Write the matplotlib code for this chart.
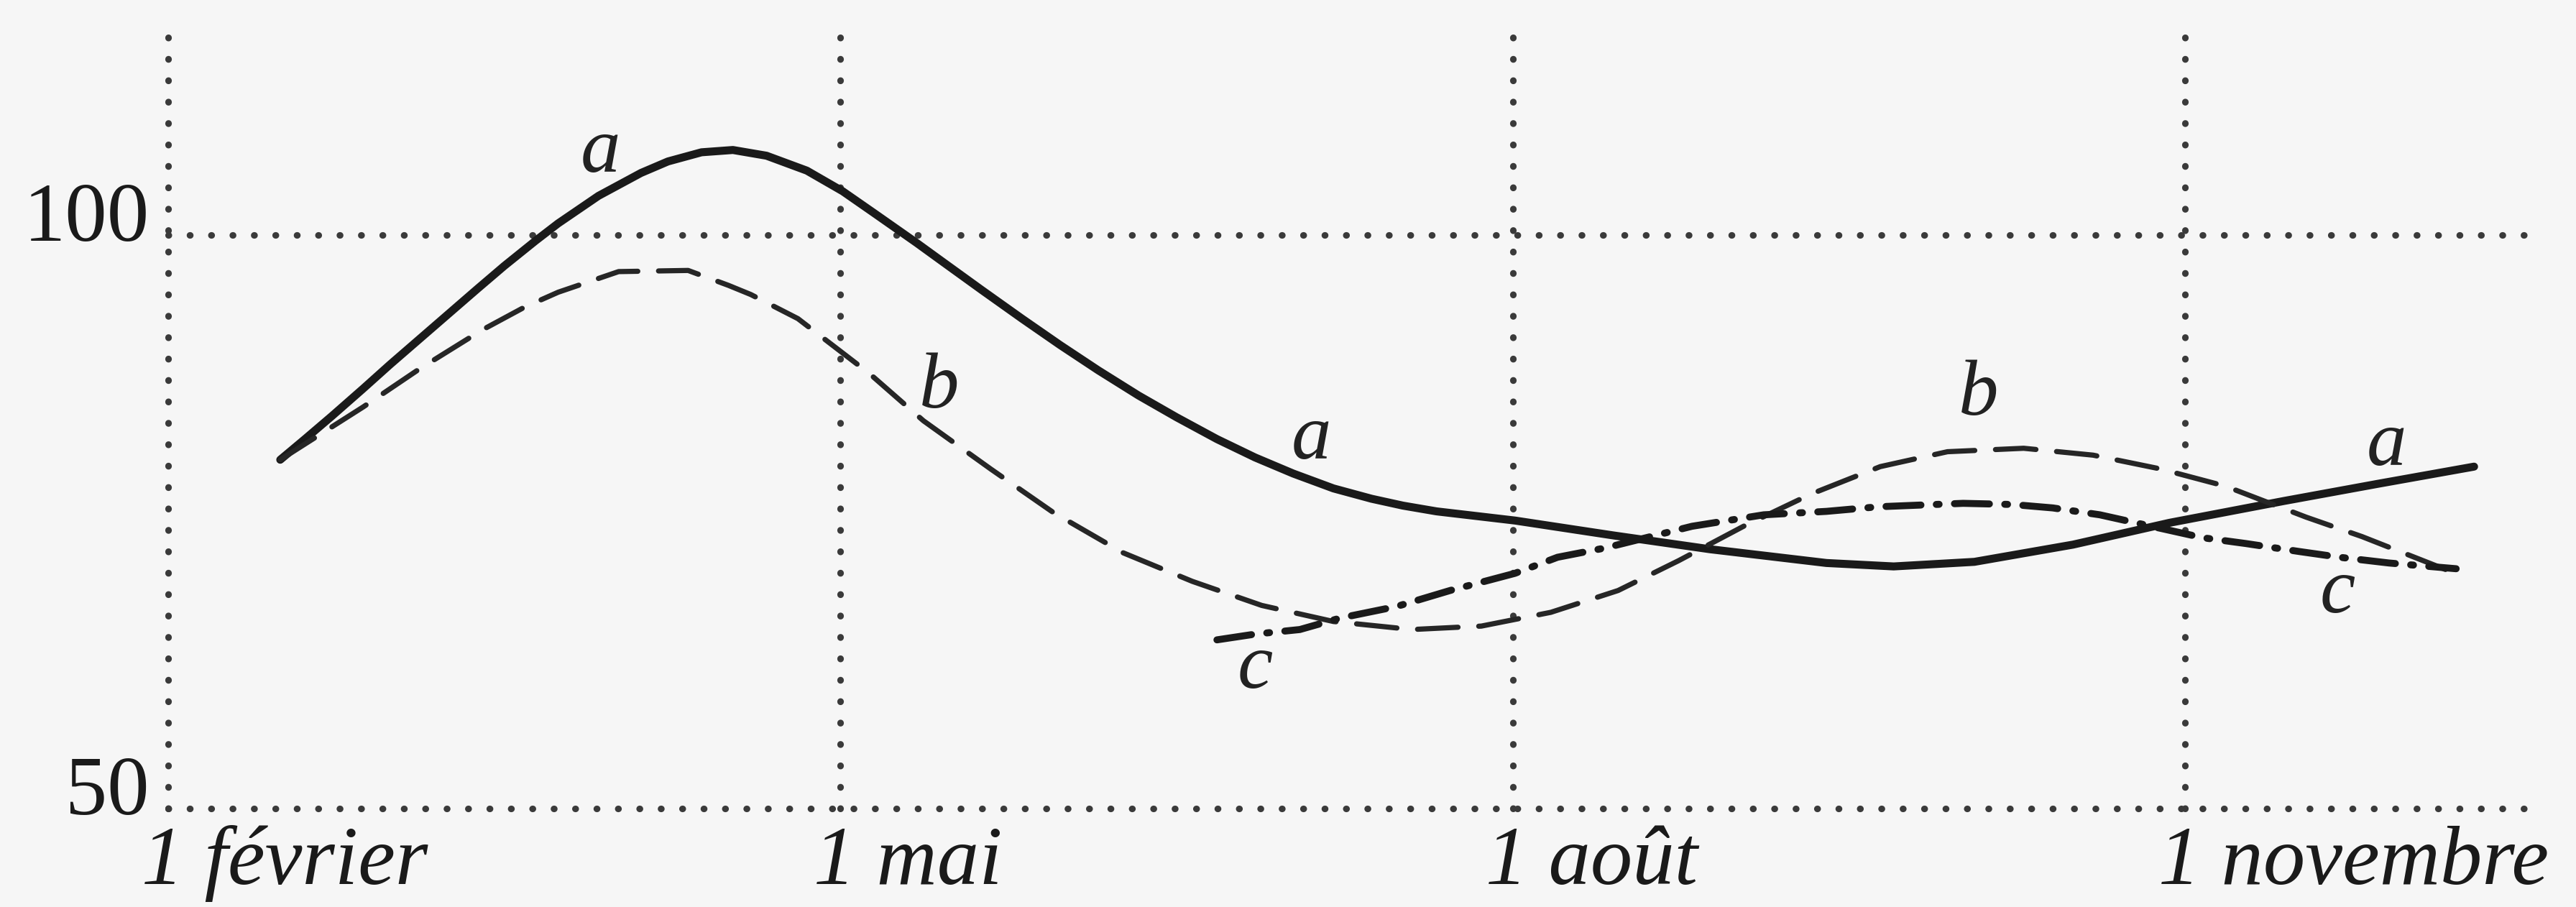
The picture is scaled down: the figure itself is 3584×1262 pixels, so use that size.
import matplotlib.pyplot as plt
import numpy as np

# month offsets from 1 february
month_ticks = [0, 3, 6, 9]
month_labels = ["1 février", "1 mai", "1 août", "1 novembre"]
value_ticks = [50, 100]

# curve a (solid)
a_x = [0.50, 0.61, 0.73, 0.87, 0.99, 1.12, 1.25, 1.38, 1.50, 1.64, 1.74, 1.92,
       2.11, 2.23, 2.38, 2.52, 2.67, 2.85, 3.01, 3.15, 3.34, 3.46, 3.63, 3.81,
       3.98, 4.15, 4.33, 4.50, 4.68, 4.85, 5.02, 5.20, 5.37, 5.51, 5.66, 6.01,
       6.45, 6.88, 7.40, 7.70, 8.06, 8.50, 8.93, 9.44, 9.86, 10.29]
a_y = [80.4, 82.2, 84.2, 86.6, 88.7, 90.9, 93.1, 95.3, 97.3, 99.5, 101.0, 103.4,
       105.4, 106.4, 107.2, 107.4, 106.9, 105.6, 103.8, 101.9, 99.3, 97.6, 95.2, 92.7,
       90.4, 88.2, 86.0, 84.1, 82.2, 80.6, 79.2, 77.9, 77.0, 76.4, 75.9, 75.1,
       73.8, 72.6, 71.4, 71.1, 71.5, 73.0, 74.9, 76.8, 78.3, 79.8]

# curve b (dashed)
b_x = [0.50, 0.87, 1.12, 1.40, 1.59, 1.74, 2.01, 2.32, 2.50, 2.60, 2.81, 3.13,
       3.37, 3.67, 3.95, 4.26, 4.57, 4.88, 5.20, 5.55, 5.86, 6.17, 6.47, 6.74,
       7.03, 7.33, 7.64, 7.94, 8.28, 8.59, 8.89, 9.18, 9.54, 9.79, 10.18]
b_y = [80.4, 85.0, 88.3, 91.7, 93.7, 95.0, 96.8, 96.9, 95.6, 94.8, 92.7, 87.9,
       83.8, 79.6, 75.8, 72.3, 69.8, 67.7, 66.3, 65.6, 65.9, 67.1, 69.0, 71.6,
       74.6, 77.4, 79.8, 81.1, 81.4, 80.8, 79.6, 78.1, 75.4, 73.7, 70.7]

# curve c (dash-dot)
c_x = [4.68, 4.85, 5.05, 5.23, 5.48, 5.72, 6.01, 6.20, 6.41, 6.80, 7.12, 7.40,
       7.63, 8.01, 8.23, 8.41, 8.62, 8.85, 9.08, 9.27, 9.51, 9.69, 9.91, 10.21]
c_y = [64.7, 65.2, 65.6, 66.6, 67.6, 69.0, 70.5, 71.9, 72.7, 74.6, 75.6, 75.9,
       76.3, 76.6, 76.5, 76.2, 75.6, 74.6, 73.6, 73.1, 72.4, 71.9, 71.4, 70.9]

# curve letters
letters = ["a", "a", "a", "b", "b", "c", "c"]
letter_x = [1.93, 5.10, 9.90, 3.44, 8.08, 4.85, 9.68]
letter_y = [107.2, 82.2, 81.6, 86.6, 86.0, 62.2, 68.8]

ink = "#1a1a1a"
dots = "#3a3a3a"
bg = "#f6f6f6"

fig = plt.figure(figsize=(35.84, 12.62), dpi=100, facecolor=bg)
ax = fig.add_axes([0.0653, 0.1086, 0.9308, 0.8677])
ax.set_facecolor(bg)
ax.set_xlim(0, 10.70)
ax.set_ylim(50, 118.6)
ax.axis("off")

# dotted frame / grid
grid_style = dict(color=dots, linewidth=6.6, linestyle=(0, (0.05, 3.2)),
                  dash_capstyle="round", clip_on=False)
for m in month_ticks:
    ax.plot([m, m], [50, 118.3], **grid_style)
for v in value_ticks:
    ax.plot([0, 10.6], [v, v], **grid_style)

ax.plot(a_x, a_y, color=ink, linewidth=8.0, solid_capstyle="round",
        solid_joinstyle="round")
ax.plot(b_x, b_y, color="#262626", linewidth=5.2, linestyle=(0, (7.8, 4.0)),
        dash_capstyle="round")
ax.plot(c_x, c_y, color=ink, linewidth=7.0, linestyle=(0, (5.0, 2.2, 0.4, 2.2)),
        dash_capstyle="round")

for t, x, y in zip(letters, letter_x, letter_y):
    ax.text(x, y, t, fontsize=80, family="Liberation Serif", style="italic",
            color="#222222", ha="center", va="center")

for m, lab in zip(month_ticks, month_labels):
    ax.text(m - 0.12, 43.4, lab, fontsize=84, family="Liberation Serif",
            style="italic", color="#1a1a1a", ha="left", va="baseline")

for v in value_ticks:
    ax.text(-0.085, v - 0.5, str(v), fontsize=84, family="Liberation Serif",
            color="#1a1a1a", ha="right", va="baseline")

plt.savefig("out.png", dpi=100, facecolor=fig.get_facecolor())
